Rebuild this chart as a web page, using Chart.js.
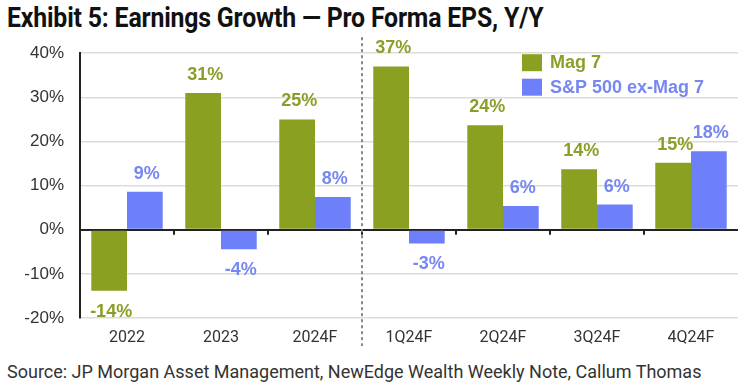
<!DOCTYPE html>
<html>
<head>
<meta charset="utf-8">
<script src="https://cdn.jsdelivr.net/npm/chart.js@4.4.1/dist/chart.umd.min.js"></script>
<style>
  html, body { margin: 0; padding: 0; background: #fff; }
  body { width: 750px; height: 387px; position: relative; overflow: hidden; }
  #title { position: absolute; left: 7px; top: 2px; font: bold 27px Roboto, sans-serif; color: #111; white-space: nowrap; transform: scaleX(0.92); transform-origin: left top; letter-spacing: -0.2px; }
  #wrap { position: absolute; left: 0; top: 27px; width: 750px; height: 321px; }
  #source { position: absolute; left: 7px; top: 361px; font: 18px Roboto, sans-serif; color: #333; white-space: nowrap; }
</style>
</head>
<body>
<div id="title">Exhibit 5: Earnings Growth — Pro Forma EPS, Y/Y</div>
<div id="wrap"><canvas id="chart"></canvas></div>
<div id="source">Source: JP Morgan Asset Management, NewEdge Wealth Weekly Note, Callum Thomas</div>
<script>
const categories = ['2022', '2023', '2024F', '1Q24F', '2Q24F', '3Q24F', '4Q24F'];
const mag7 = [-13.8, 31, 25, 37, 23.7, 13.7, 15.2];
const mag7Labels = ['-14%', '31%', '25%', '37%', '24%', '14%', '15%'];
const exMag7 = [8.6, -4.4, 7.4, -3.1, 5.4, 5.7, 17.8];
const exMag7Labels = ['9%', '-4%', '8%', '-3%', '6%', '6%', '18%'];
const yTicks = [-20, -10, 0, 10, 20, 30, 40];

const GREEN = '#8aa020';
const BLUE = '#6d80fa';

// value labels above / below bars
const valueLabels = {
  id: 'valueLabels',
  afterDatasetsDraw(chart) {
    const ctx = chart.ctx;
    ctx.save();
    ctx.font = 'bold 18px "Liberation Sans", Arial, sans-serif';
    ctx.textAlign = 'center';
    ctx.textBaseline = 'middle';
    chart.data.datasets.forEach((ds, di) => {
      const meta = chart.getDatasetMeta(di);
      ctx.fillStyle = ds.labelColor;
      meta.data.forEach((bar, i) => {
        const v = ds.data[i];
        const y = v >= 0 ? bar.y - 18 : bar.y + 21;
        ctx.fillText(ds.valueText[i], bar.x + 2, y);
      });
    });
    ctx.restore();
  }
};

// zero line ticks, the dotted divider and the legend
const extras = {
  id: 'extras',
  afterDraw(chart) {
    const ctx = chart.ctx;
    const x = chart.scales.x, y = chart.scales.y;
    const top = chart.chartArea.top;
    const y0 = y.getPixelForValue(0);
    ctx.save();
    ctx.strokeStyle = '#222';
    ctx.lineWidth = 2;
    for (let i = 0; i < categories.length - 1; i++) {
      const bx = (x.getPixelForTick(i) + x.getPixelForTick(i + 1)) / 2;
      ctx.beginPath();
      ctx.moveTo(bx, y0);
      ctx.lineTo(bx, y0 + 5);
      ctx.stroke();
    }
    // divider between annual and quarterly
    const dx = (x.getPixelForTick(2) + x.getPixelForTick(3)) / 2;
    ctx.strokeStyle = '#888';
    ctx.lineWidth = 2;
    ctx.setLineDash([3, 3]);
    ctx.beginPath();
    ctx.moveTo(dx, top - 16);
    ctx.lineTo(dx, chart.chartArea.bottom + 28);
    ctx.stroke();
    ctx.setLineDash([]);
    // legend
    ctx.font = 'bold 18px "Liberation Sans", Arial, sans-serif';
    ctx.textBaseline = 'middle';
    ctx.textAlign = 'left';
    chart.data.datasets.forEach((ds, di) => {
      const ly = top + 1 + di * 24.5;
      ctx.fillStyle = ds.backgroundColor;
      ctx.fillRect(522, ly, 20, 17);
      ctx.fillStyle = ds.labelColor;
      ctx.fillText(ds.label, 550, ly + 9);
    });
    ctx.restore();
  }
};

new Chart(document.getElementById('chart'), {
  type: 'bar',
  data: {
    labels: categories,
    datasets: [
      { label: 'Mag 7', data: mag7, valueText: mag7Labels, backgroundColor: GREEN, labelColor: '#8a9f28' },
      { label: 'S&P 500 ex-Mag 7', data: exMag7, valueText: exMag7Labels, backgroundColor: BLUE, labelColor: '#7787f2' }
    ]
  },
  options: {
    responsive: true,
    maintainAspectRatio: false,
    animation: false,
    events: [],
    categoryPercentage: 0.76,
    barPercentage: 1.0,
    layout: { padding: { top: 7, right: 12, bottom: 0, left: 0 } },
    plugins: { legend: { display: false }, tooltip: { enabled: false } },
    scales: {
      x: {
        grid: { display: false },
        border: { display: false },
        ticks: { color: '#333', padding: 2, font: { family: 'Roboto, sans-serif', size: 16 } },
        afterFit(scale) { scale.height = 30; }
      },
      y: {
        min: -20, max: 40,
        afterBuildTicks(scale) { scale.ticks = yTicks.map(v => ({ value: v })); },
        afterFit(scale) { scale.width = 80; },
        grid: {
          drawTicks: false,
          color: c => c.tick.value === 0 ? '#222' : '#dcdcdc',
          lineWidth: c => c.tick.value === 0 ? 2 : 1.5
        },
        border: { color: '#222', width: 2 },
        ticks: {
          color: '#333', padding: 16,
          font: { family: '"Liberation Sans", Arial, sans-serif', size: 17 },
          callback: v => v + '%'
        }
      }
    }
  },
  plugins: [valueLabels, extras]
});
</script>
</body>
</html>
